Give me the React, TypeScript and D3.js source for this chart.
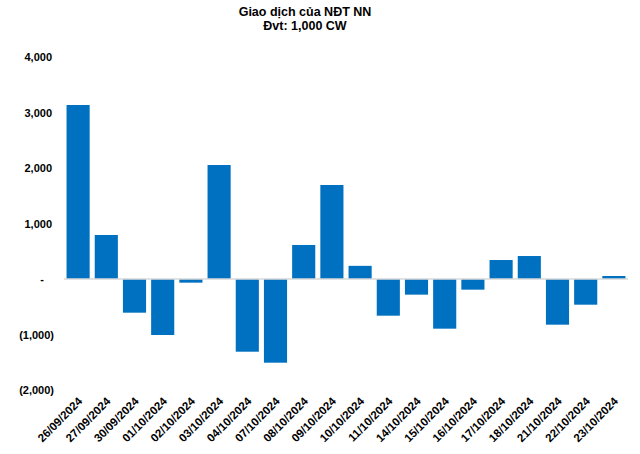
import React from "react";
import * as d3 from "d3";

const categories = ["26/09/2024","27/09/2024","30/09/2024","01/10/2024","02/10/2024","03/10/2024","04/10/2024","07/10/2024","08/10/2024","09/10/2024","10/10/2024","11/10/2024","14/10/2024","15/10/2024","16/10/2024","17/10/2024","18/10/2024","21/10/2024","22/10/2024","23/10/2024"];
const values = [3135, 793, -607, -1009, -66, 2054, -1310, -1508, 613, 1694, 237, -661, -282, -895, -192, 342, 414, -823, -463, 54];
const yTicks = [-2000, -1000, 0, 1000, 2000, 3000, 4000];
const titleLines = ["Giao dịch của NĐT NN", "Đvt: 1,000 CW"];

const W = 640, H = 454;
const left = 64, right = 628, top = 57, bottom = 390;

function fmt(v: number): string {
  if (v === 0) return "-";
  const s = d3.format(",")(Math.abs(v));
  return v < 0 ? `(${s})` : s;
}

export default function App() {
  const x = d3.scaleBand<string>().domain(categories).range([left, right]).paddingInner(0.18).paddingOuter(0.09);
  const y = d3.scaleLinear().domain([-2000, 4000]).range([bottom, top]);
  const font = "Liberation Sans, Arial, sans-serif";
  return (
    <svg width={W} height={H} style={{ position: "absolute", left: 0, top: 0, background: "#fff" }}>
      {titleLines.map((t, i) => (
        <text key={i} x={305} y={16 + i * 14} textAnchor="middle" fontFamily={font} fontWeight="bold" fontSize={12.5} fill="#000">{t}</text>
      ))}
      {yTicks.map((t) => (
        <text key={t} x={t === 0 ? 44 : t < 0 ? 54 : 52} y={y(t) + 4} textAnchor="end" fontFamily={font} fontWeight="bold" fontSize={11} fill="#000">{fmt(t)}</text>
      ))}
      {values.map((v, i) => (
        <rect key={i} x={x(categories[i])} width={x.bandwidth()} y={y(Math.max(0, v))} height={Math.abs(y(v) - y(0))} fill="#0070c0" />
      ))}
      <line x1={left} x2={right} y1={y(0)} y2={y(0)} stroke="#d9d9d9" strokeWidth={1.5} />
      {categories.map((c) => (
        <text key={c} transform={`translate(${(x(c) as number) + x.bandwidth() / 2 + 5},${bottom + 12}) rotate(-45)`} textAnchor="end" fontFamily={font} fontWeight="bold" fontSize={11.5} fill="#000">{c}</text>
      ))}
    </svg>
  );
}
